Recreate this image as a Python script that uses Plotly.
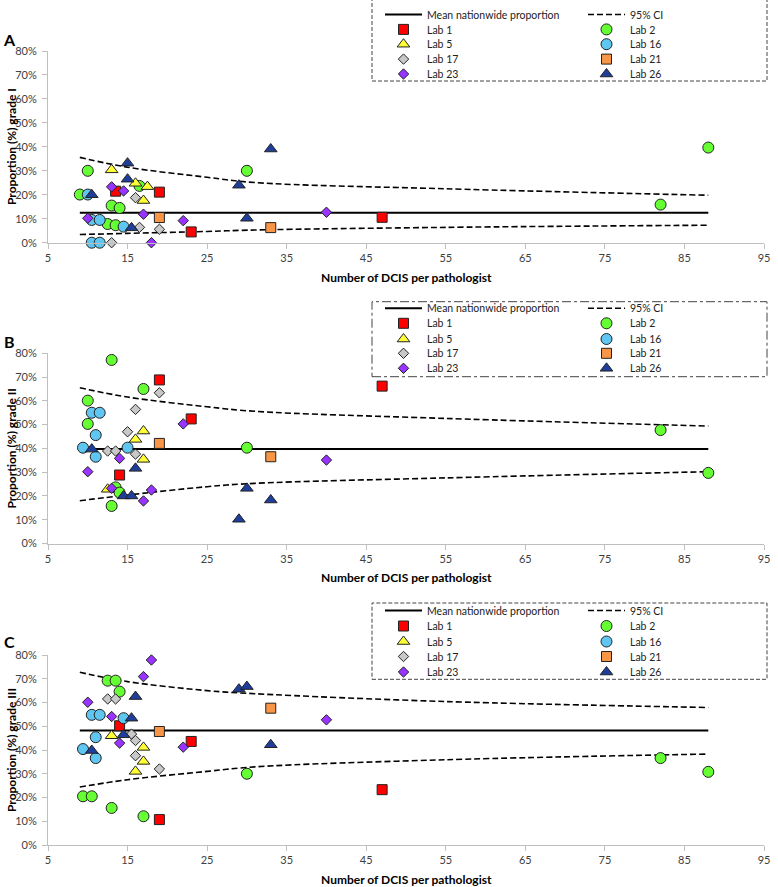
import plotly.graph_objects as go

FONT = "Lato, 'Open Sans', sans-serif"

# ---------------- Panel A : grade I ----------------
A_LAB1_X = [13.5, 19, 23, 47]
A_LAB1_Y = [21.5, 21.1, 4.5, 10.6]
A_LAB2_X = [9, 10, 12.5, 13, 13.5, 14, 16.5, 30, 82, 88]
A_LAB2_Y = [20.1, 30.0, 7.8, 15.5, 7.3, 14.5, 23.7, 30.0, 15.9, 39.7]
A_LAB5_X = [13, 16, 17.5, 17]
A_LAB5_Y = [30.4, 24.8, 23.4, 17.6]
A_LAB16_X = [10, 10.5, 11.5, 14.5, 10.5, 11.5]
A_LAB16_Y = [20.1, 9.5, 9.5, 6.7, 0.0, 0.0]
A_LAB17_X = [13, 16, 16.5, 19]
A_LAB17_Y = [0.0, 18.8, 6.4, 5.6]
A_LAB21_X = [19, 33]
A_LAB21_Y = [10.5, 6.3]
A_LAB23_X = [10, 13, 14.5, 17, 18, 22, 40]
A_LAB23_Y = [10.2, 23.3, 21.6, 11.9, 0.0, 9.2, 12.7]
A_LAB26_X = [10.5, 15, 15, 15.5, 29, 30, 33]
A_LAB26_Y = [20.0, 33.2, 26.5, 6.2, 24.0, 10.2, 39.1]
A_MEAN = 12.5
A_CI_UP = [35.6, 31.5, 27.3, 25.1, 22.5, 19.8]
A_CI_LO = [3.4, 3.9, 4.7, 5.3, 6.4, 7.3]

# ---------------- Panel B : grade II ----------------
B_LAB1_X = [14, 19, 23, 47]
B_LAB1_Y = [28.8, 68.8, 52.4, 66.2]
B_LAB2_X = [10, 10, 13, 13.5, 14, 13, 17, 30, 82, 88]
B_LAB2_Y = [60.1, 50.3, 77.2, 23.6, 21.4, 15.8, 65.0, 40.3, 47.7, 29.7]
B_LAB5_X = [12.5, 16, 17, 17]
B_LAB5_Y = [22.8, 43.8, 47.3, 35.4]
B_LAB16_X = [9.4, 10.5, 11.5, 11, 11, 15]
B_LAB16_Y = [40.3, 55.0, 55.0, 45.6, 36.5, 40.3]
B_LAB17_X = [12.5, 13.5, 15, 16, 16, 19]
B_LAB17_Y = [38.9, 38.9, 47.0, 56.4, 37.6, 63.4]
B_LAB21_X = [19, 33]
B_LAB21_Y = [42.1, 36.5]
B_LAB23_X = [10, 13, 14, 17, 18, 22, 40]
B_LAB23_Y = [30.2, 23.2, 35.8, 17.9, 22.5, 50.3, 35.1]
B_LAB26_X = [10.5, 14.5, 15.5, 16, 29, 30, 33]
B_LAB26_Y = [39.7, 20.0, 20.0, 31.6, 10.2, 23.2, 18.3]
B_MEAN = 39.7
B_CI_UP = [65.5, 61.6, 57.5, 55.6, 52.6, 49.4]
B_CI_LO = [18.0, 20.4, 23.9, 25.3, 27.6, 30.2]

# ---------------- Panel C : grade III ----------------
C_LAB1_X = [14, 19, 23, 47]
C_LAB1_Y = [50.2, 10.7, 43.6, 23.3]
C_LAB2_X = [9.4, 10.5, 12.5, 13.5, 14, 13, 17, 30, 82, 88]
C_LAB2_Y = [20.5, 20.5, 69.2, 69.2, 64.6, 15.6, 12.1, 30.0, 36.6, 30.8]
C_LAB5_X = [13, 16, 17, 17]
C_LAB5_Y = [46.0, 31.0, 41.1, 35.2]
C_LAB16_X = [9.4, 10.5, 11.5, 11, 11, 14.5]
C_LAB16_Y = [40.4, 54.8, 54.8, 45.4, 36.6, 53.4]
C_LAB17_X = [12.5, 13.5, 15.5, 16, 16, 19]
C_LAB17_Y = [61.5, 61.5, 46.7, 44.0, 37.6, 32.0]
C_LAB21_X = [19, 33]
C_LAB21_Y = [47.8, 57.6]
C_LAB23_X = [10, 13, 14, 17, 18, 22, 40]
C_LAB23_Y = [60.1, 54.1, 42.9, 70.9, 77.9, 41.2, 52.7]
C_LAB26_X = [10.5, 14.5, 15.5, 16, 29, 30, 33]
C_LAB26_Y = [39.8, 46.4, 53.4, 62.5, 65.6, 66.7, 42.2]
C_MEAN = 48.2
C_CI_UP = [72.7, 68.8, 65.0, 63.7, 60.4, 57.9]
C_CI_LO = [24.4, 27.5, 31.0, 32.9, 35.9, 38.3]

# shared x positions / ticks
CI_X = [9, 15, 25, 31, 55, 88]
MEAN_X = [9, 88]
X_TICKS = [5, 15, 25, 35, 45, 55, 65, 75, 85, 95]
Y_TICKS = [0, 10, 20, 30, 40, 50, 60, 70, 80]
Y_TICKTEXT = ["0%", "10%", "20%", "30%", "40%", "50%", "60%", "70%", "80%"]

LAB_NAMES = ["Lab 1", "Lab 2", "Lab 5", "Lab 16", "Lab 17", "Lab 21", "Lab 23", "Lab 26"]
SYMBOLS = ["square", "circle", "triangle-up", "circle", "diamond", "square", "diamond", "triangle-up"]
COLORS = ["#FF0000", "#66FF33", "#FFFF33", "#5EC6F0", "#C8C8C8", "#F79646", "#9933FF", "#1F3E9A"]
SIZES = [10, 11, 11, 11, 8, 10, 8, 11]

panels = [
    dict(x="x", y="y", title="Proportion (%) grade I", letter="A",
         labs=[(A_LAB1_X, A_LAB1_Y), (A_LAB2_X, A_LAB2_Y), (A_LAB5_X, A_LAB5_Y), (A_LAB16_X, A_LAB16_Y),
               (A_LAB17_X, A_LAB17_Y), (A_LAB21_X, A_LAB21_Y), (A_LAB23_X, A_LAB23_Y), (A_LAB26_X, A_LAB26_Y)],
         mean=A_MEAN, up=A_CI_UP, lo=A_CI_LO),
    dict(x="x2", y="y2", title="Proportion (%) grade II", letter="B",
         labs=[(B_LAB1_X, B_LAB1_Y), (B_LAB2_X, B_LAB2_Y), (B_LAB5_X, B_LAB5_Y), (B_LAB16_X, B_LAB16_Y),
               (B_LAB17_X, B_LAB17_Y), (B_LAB21_X, B_LAB21_Y), (B_LAB23_X, B_LAB23_Y), (B_LAB26_X, B_LAB26_Y)],
         mean=B_MEAN, up=B_CI_UP, lo=B_CI_LO),
    dict(x="x3", y="y3", title="Proportion (%) grade III", letter="C",
         labs=[(C_LAB1_X, C_LAB1_Y), (C_LAB2_X, C_LAB2_Y), (C_LAB5_X, C_LAB5_Y), (C_LAB16_X, C_LAB16_Y),
               (C_LAB17_X, C_LAB17_Y), (C_LAB21_X, C_LAB21_Y), (C_LAB23_X, C_LAB23_Y), (C_LAB26_X, C_LAB26_Y)],
         mean=C_MEAN, up=C_CI_UP, lo=C_CI_LO),
]

W, H = 778, 887
ML, MR, MT, MB = 48, 14, 51, 42
PW, PH = W - ML - MR, H - MT - MB


def px_x(p):
    return (p - ML) / PW


def px_y(p):
    return (H - MB - p) / PH


# legend layout (pixel rows of each panel's legend, two columns)
LEG_ROWS = [[14.5, 29.4, 44.2, 59.1, 74.0],
            [308.3, 323.3, 339.0, 353.3, 368.3],
            [610.5, 626.0, 641.5, 656.5, 672.0]]
LEG_COL_X = [380, 583]
ITEM_OFFSET = 14.5   # centre of the single entry below the legend top


def leg_id(k, row, col):
    n = k * 10 + row * 2 + col + 1
    return "legend" if n == 1 else "legend%d" % n


fig = go.Figure()
legend_defs = {}

for k, pn in enumerate(panels):
    for row in range(5):
        for col in range(2):
            legend_defs[leg_id(k, row, col)] = dict(
                x=px_x(LEG_COL_X[col]), y=px_y(LEG_ROWS[k][row] - ITEM_OFFSET),
                xanchor="left", yanchor="top", bgcolor="rgba(0,0,0,0)", borderwidth=0, itemwidth=37,
                font=dict(family=FONT, size=10.5, color="#222222"))

    fig.add_trace(go.Scatter(x=MEAN_X, y=[pn["mean"], pn["mean"]], mode="lines",
                             line=dict(color="black", width=2), name="Mean nationwide proportion",
                             xaxis=pn["x"], yaxis=pn["y"], legend=leg_id(k, 0, 0), hoverinfo="skip"))
    fig.add_trace(go.Scatter(x=CI_X, y=pn["up"], mode="lines",
                             line=dict(color="black", width=1.6, dash="6px,3px", shape="spline"),
                             name="95% CI", xaxis=pn["x"], yaxis=pn["y"], legend=leg_id(k, 0, 1),
                             hoverinfo="skip"))
    fig.add_trace(go.Scatter(x=CI_X, y=pn["lo"], mode="lines",
                             line=dict(color="black", width=1.6, dash="6px,3px", shape="spline"),
                             name="95% CI", showlegend=False, xaxis=pn["x"], yaxis=pn["y"],
                             legend=leg_id(k, 0, 1), hoverinfo="skip"))
    for i, (xs, ys) in enumerate(pn["labs"]):
        fig.add_trace(go.Scatter(x=xs, y=ys, mode="markers", name=LAB_NAMES[i],
                                 marker=dict(symbol=SYMBOLS[i], color=COLORS[i], size=SIZES[i],
                                             line=dict(color="#222222", width=1)),
                                 cliponaxis=False, xaxis=pn["x"], yaxis=pn["y"],
                                 legend=leg_id(k, i // 2 + 1, i % 2)))

y_domains = [
    (px_y(242.7), 1.0),
    (px_y(543.5), px_y(353.3)),
    (0.0, px_y(655.0)),
]

axis_common_x = dict(range=[5, 95], tickvals=X_TICKS, showline=True, linecolor="#BFBFBF", linewidth=1,
                     ticks="outside", ticklen=5, tickcolor="#BFBFBF", showgrid=False, zeroline=False,
                     tickfont=dict(family=FONT, size=11, color="#404040"), domain=[0, 1])
axis_common_y = dict(range=[0, 80], tickvals=Y_TICKS, ticktext=Y_TICKTEXT, showline=True,
                     linecolor="#BFBFBF", linewidth=1, ticks="outside", ticklen=5, tickcolor="#BFBFBF",
                     ticklabelstandoff=3,
                     showgrid=False, zeroline=False, tickfont=dict(family=FONT, size=11, color="#404040"))

layout = dict(width=W, height=H, margin=dict(l=ML, r=MR, t=MT, b=MB, autoexpand=False),
              plot_bgcolor="white", paper_bgcolor="white", font=dict(family=FONT), hovermode=False,
              showlegend=True)
for k, suffix in enumerate(["", "2", "3"]):
    layout["xaxis" + suffix] = dict(axis_common_x, anchor="y" + suffix)
    layout["yaxis" + suffix] = dict(axis_common_y, anchor="x" + suffix, domain=list(y_domains[k]))
layout.update(legend_defs)

annotations = []
shapes = []
xt_y = [277.0, 577.5, 879.0]
yt_y = [147.0, 448.5, 750.0]
let_y = [40.0, 341.0, 641.0]
box_y = [(-1, 81), (301.7, 376.7), (603.0, 679.3)]
box_dash = ["4px,2px", "dashdot", "4px,2px"]
for k, pn in enumerate(panels):
    annotations.append(dict(text="<b>Number of DCIS per pathologist</b>", xref="paper", yref="paper",
                            x=0.5, y=px_y(xt_y[k]), xanchor="center", yanchor="middle", showarrow=False,
                            font=dict(family=FONT, size=12, color="black")))
    annotations.append(dict(text="<b>%s</b>" % pn["title"], xref="paper", yref="paper", textangle=-90,
                            x=px_x(11), y=px_y(yt_y[k]), xanchor="center", yanchor="middle", showarrow=False,
                            font=dict(family=FONT, size=12, color="black")))
    annotations.append(dict(text="<b>%s</b>" % pn["letter"], xref="paper", yref="paper",
                            x=px_x(9), y=px_y(let_y[k]), xanchor="center", yanchor="middle", showarrow=False,
                            font=dict(family=FONT, size=16, color="black")))
    shapes.append(dict(type="rect", xref="paper", yref="paper", x0=px_x(372), x1=px_x(767),
                       y0=px_y(box_y[k][1]), y1=px_y(box_y[k][0]),
                       line=dict(color="#444444", width=1, dash=box_dash[k]), fillcolor="rgba(0,0,0,0)"))

layout["annotations"] = annotations
layout["shapes"] = shapes
fig.update_layout(**layout)

fig.write_html("out.html", config={"displayModeBar": False},
               post_script="document.body.style.margin='0px';document.body.style.overflow='hidden';")
